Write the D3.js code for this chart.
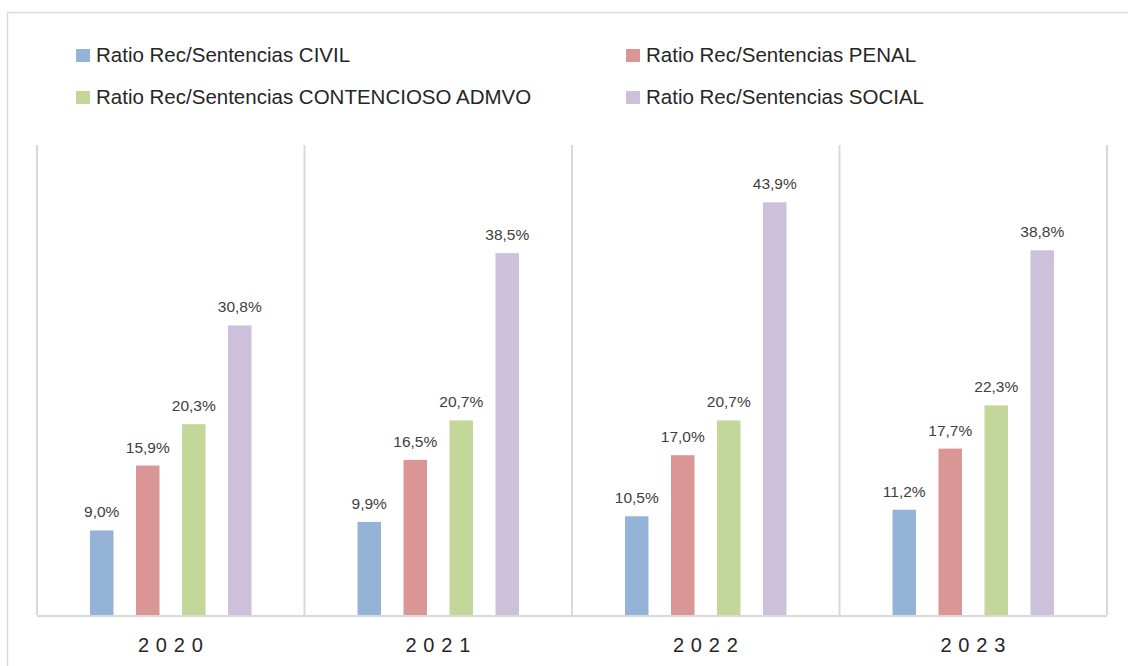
<!DOCTYPE html>
<html><head><meta charset="utf-8">
<script src="https://cdn.jsdelivr.net/npm/d3@7"></script>
<style>body{margin:0;background:#fff}svg{display:block}</style>
</head><body><svg id="c" width="1128" height="666"></svg>
<script>
const years = ["2020","2021","2022","2023"];
const seriesNames = ["Ratio Rec/Sentencias CIVIL","Ratio Rec/Sentencias PENAL","Ratio Rec/Sentencias CONTENCIOSO ADMVO","Ratio Rec/Sentencias SOCIAL"];
const civil = [9.0, 9.9, 10.5, 11.2];
const penal = [15.9, 16.5, 17.0, 17.7];
const contencioso = [20.3, 20.7, 20.7, 22.3];
const social = [30.8, 38.5, 43.9, 38.8];
const colors = ["#95B3D7","#DA9694","#C4D79B","#CCC0DA"];

const values = [civil, penal, contencioso, social];
const svg = d3.select("#c");
const font = "'Liberation Sans', Arial, sans-serif";

svg.append("rect").attr("x",7.5).attr("y",12.5).attr("width",1140).attr("height",670)
  .attr("fill","#fff").attr("stroke","#d9d9d9").attr("stroke-width",1.5);

const L = 37, R = 1107, T = 145, B = 615;
const x0 = d3.scaleBand().domain(years).range([L,R]).padding(0);
const x1 = d3.scaleBand().domain(d3.range(4)).range([0,x0.bandwidth()]).paddingInner(0.489).paddingOuter(1.152);
const y = d3.scaleLinear().domain([0,50]).range([B,T]);

// separators
const g = svg.append("g");
g.selectAll("line.sep").data(d3.range(5)).join("line")
  .attr("x1",i=>L+i*x0.step()).attr("x2",i=>L+i*x0.step())
  .attr("y1",T).attr("y2",B).attr("stroke","#d9d9d9").attr("stroke-width",2);
g.append("line").attr("x1",L).attr("x2",R).attr("y1",B+1).attr("y2",B+1).attr("stroke","#d9d9d9").attr("stroke-width",2);

// bars
const data = [];
years.forEach((yr,i)=>values.forEach((arr,s)=>data.push({yr,s,v:arr[i]})));
svg.append("g").selectAll("rect").data(data).join("rect")
  .attr("x",d=>x0(d.yr)+x1(d.s)).attr("width",x1.bandwidth())
  .attr("y",d=>y(d.v)).attr("height",d=>B-y(d.v)).attr("fill",d=>colors[d.s]);

// labels
const fmt = v => v.toFixed(1).replace(".",",")+"%";
svg.append("g").selectAll("text").data(data).join("text")
  .attr("x",d=>x0(d.yr)+x1(d.s)+x1.bandwidth()/2).attr("y",d=>y(d.v)-13)
  .attr("text-anchor","middle").attr("font-family",font).attr("font-size",15.5)
  .attr("fill","#404040").text(d=>fmt(d.v));

// x axis labels
svg.append("g").selectAll("text").data(years).join("text")
  .attr("x",d=>x0(d)+x0.bandwidth()/2+3).attr("y",652)
  .attr("text-anchor","middle").attr("font-family",font).attr("font-size",20)
  .attr("letter-spacing","6.8px").attr("fill","#262626").text(d=>d);

// legend
const legPos = [[76,62],[626,62],[76,104],[626,104]];
const lg = svg.append("g");
seriesNames.forEach((n,i)=>{
  const [lx,ly]=legPos[i];
  lg.append("rect").attr("x",lx).attr("y",ly-13).attr("width",14).attr("height",13).attr("fill",colors[i]);
  lg.append("text").attr("x",lx+20).attr("y",ly).attr("font-family",font).attr("font-size",20.5)
    .attr("fill","#262626").text(n);
});
</script></body></html>
